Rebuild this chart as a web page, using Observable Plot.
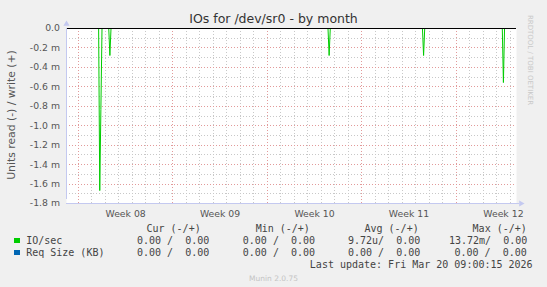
<!DOCTYPE html>
<html><head><meta charset="utf-8">
<script src="https://cdn.jsdelivr.net/npm/d3@7"></script>
<script src="https://cdn.jsdelivr.net/npm/@observablehq/plot@0.6"></script>
<style>
html,body{margin:0;padding:0;background:#f0f0f0;}
#chart{position:relative;width:547px;height:287px;overflow:hidden;background:#f0f0f0;font-family:"DejaVu Sans",sans-serif;}
#chart svg{position:absolute;left:0;top:0;}
.t{position:absolute;white-space:pre;line-height:normal;}
.mono{font-family:"DejaVu Sans Mono",monospace;font-size:10px;color:#444;}
</style></head><body><div id="chart"></div>
<script>
// ---- data ----
const times = [
  "2026-02-15T04:00Z",
  "2026-02-17T12:00Z","2026-02-17T14:00Z","2026-02-17T16:00Z","2026-02-17T18:00Z",
  "2026-02-18T06:00Z","2026-02-18T08:00Z","2026-02-18T10:00Z",
  "2026-03-06T12:00Z","2026-03-06T14:00Z","2026-03-06T16:00Z",
  "2026-03-13T12:00Z","2026-03-13T14:00Z","2026-03-13T16:00Z",
  "2026-03-19T10:00Z","2026-03-19T12:00Z","2026-03-19T14:00Z",
  "2026-03-20T08:00Z"
];
const readValues = [
  0,
  0, -1.667, -0.833, 0,
  0, -0.278, 0,
  0, -0.278, 0,
  0, -0.278, 0,
  0, -0.556, 0,
  0
];
const weekTicks = ["2026-02-19T12:00Z","2026-02-26T12:00Z","2026-03-05T12:00Z","2026-03-12T12:00Z","2026-03-19T12:00Z"];
const weekLabels = ["Week 08","Week 09","Week 10","Week 11","Week 12"];
const yTicks = [0,-0.2,-0.4,-0.6,-0.8,-1.0,-1.2,-1.4,-1.6,-1.8];
const yTickLabels = ["0.0","-0.2 m","-0.4 m","-0.6 m","-0.8 m","-1.0 m","-1.2 m","-1.4 m","-1.6 m","-1.8 m"];
const title = "IOs for /dev/sr0 - by month";
const yTitle = "Units read (-) / write (+)";
const sideText = "RRDTOOL / TOBI OETIKER";
const legendHeaders = ["Cur (-/+)","Min (-/+)","Avg (-/+)","Max (-/+)"];
const seriesNames = ["IO/sec","Req Size (KB)"];
const seriesColors = ["#00cc00","#0066b3"];
const ioStats = ["0.00 /  0.00","0.00 /  0.00","9.72u/  0.00","13.72m/  0.00"];
const reqStats = ["0.00 /  0.00","0.00 /  0.00","0.00 /  0.00","0.00 /  0.00"];
const lastUpdate = "Last update: Fri Mar 20 09:00:15 2026";
const footer = "Munin 2.0.75";

// ---- chart ----
const x0 = new Date("2026-02-15T02:50Z"), x1 = new Date("2026-03-20T11:17Z");
const days = d3.utcDay.range(d3.utcDay.ceil(x0), x1);
const mondays = d3.utcMonday.range(x0, x1);
const yMinor = d3.range(-18, 1).map(i => i / 10);
const data = times.map((t, i) => ({t: new Date(t), v: readValues[i]}));
const weekLabelMap = new Map(weekTicks.map((d, i) => [+new Date(d), weekLabels[i]]));
const yLabelMap = new Map(yTicks.map((d, i) => [d.toFixed(1), yTickLabels[i]]));
const axisColor = "#c4c9f0";
const minorColor = "#c8c8c8";
const majorColor = "#e29a9a";

const plot = Plot.plot({
  width: 547, height: 222,
  marginLeft: 66, marginRight: 31, marginTop: 28, marginBottom: 19,
  style: {background: "transparent", fontFamily: "DejaVu Sans", fontSize: "9.3px", color: "#555", overflow: "visible"},
  x: {type: "utc", domain: [x0, x1]},
  y: {domain: [-1.8, 0]},
  marks: [
    Plot.frame({fill: "white", stroke: null}),
    Plot.ruleY(yMinor, {stroke: minorColor, strokeDasharray: "1,2", shapeRendering: "crispEdges"}),
    Plot.ruleX(days, {stroke: minorColor, strokeDasharray: "1,2", shapeRendering: "crispEdges"}),
    Plot.ruleY(yTicks, {stroke: majorColor, strokeDasharray: "1,2", shapeRendering: "crispEdges"}),
    Plot.ruleX(mondays, {stroke: majorColor, strokeDasharray: "1,2", shapeRendering: "crispEdges"}),
    Plot.lineY(data, {x: "t", y: "v", stroke: seriesColors[0], strokeWidth: 1}),
    Plot.ruleY([0], {stroke: "#000", strokeWidth: 1, shapeRendering: "crispEdges"}),
    Plot.ruleX([x0], {y1: -1.8, y2: 0, insetTop: -4, stroke: axisColor, shapeRendering: "crispEdges"}),
    Plot.ruleY([-1.8], {insetRight: -3, stroke: axisColor, shapeRendering: "crispEdges"}),
    Plot.dot([x0], {x: d => d, y: () => 0, dy: -4.5, symbol: "triangle", r: 2.3, fill: axisColor, stroke: null}),
    Plot.dot([x1], {x: d => d, y: () => -1.8, dx: 4.5, symbol: "triangle", rotate: 90, r: 2.3, fill: axisColor, stroke: null}),
    Plot.axisY({ticks: yTicks, tickSize: 0, tickPadding: 6.5, tickFormat: d => yLabelMap.get(d.toFixed(1)), label: null}),
    Plot.axisX({ticks: weekTicks.map(d => new Date(d)), tickSize: 0, tickPadding: 6.5, tickFormat: d => weekLabelMap.get(+d), label: null})
  ]
});
const chart = document.getElementById("chart");
chart.appendChild(plot);

function addText(txt, opts) {
  const el = document.createElement("div");
  el.className = "t" + (opts.mono ? " mono" : "");
  el.textContent = txt;
  const fs = opts.size || 10;
  el.style.fontSize = fs + "px";
  if (opts.color) el.style.color = opts.color;
  if (opts.center) { el.style.left = "0px"; el.style.width = "547px"; el.style.textAlign = "center"; }
  else if (opts.right != null) { el.style.right = (547 - opts.right) + "px"; }
  else el.style.left = opts.x + "px";
  el.style.top = (opts.baseline - 0.928 * fs - 0.02 * fs) + "px";
  chart.appendChild(el);
  return el;
}
function addRotated(txt, cx, cy, deg, size, color) {
  const el = document.createElement("div");
  el.className = "t";
  el.textContent = txt;
  el.style.fontSize = size + "px";
  el.style.color = color;
  el.style.left = cx + "px";
  el.style.top = cy + "px";
  el.style.transform = `translate(-50%,-50%) rotate(${deg}deg)`;
  chart.appendChild(el);
}

addText(title, {center: true, baseline: 23, size: 12.5, color: "#333"});
addRotated(yTitle, 10.5, 115, -90, 10.8, "#555");
addRotated(sideText, 529.5, 60, 90, 7, "#c8c8c8");

const headerX = [146.5, 255.7, 364.5, 472.6];
legendHeaders.forEach((h, i) => addText(h, {mono: true, x: headerX[i], baseline: 232}));
const rowBase = [244, 256];
const ioX = [137, 242.8, 348, 449];
const reqX = [137, 242.8, 348, 454.5];
[ioStats, reqStats].forEach((stats, r) => {
  const sq = document.createElement("div");
  sq.style.cssText = `position:absolute;left:14px;top:${rowBase[r] - 6.5}px;width:5.5px;height:5.5px;background:${seriesColors[r]};`;
  chart.appendChild(sq);
  addText(seriesNames[r], {mono: true, x: 26.2, baseline: rowBase[r]});
  const xs = r === 0 ? ioX : reqX;
  stats.forEach((s, i) => addText(s, {mono: true, x: xs[i], baseline: rowBase[r]}));
});
addText(lastUpdate, {mono: true, right: 532.6, baseline: 268.5});
addText(footer, {center: true, baseline: 281.5, size: 7.5, color: "#c4c4c4"});
</script></body></html>
